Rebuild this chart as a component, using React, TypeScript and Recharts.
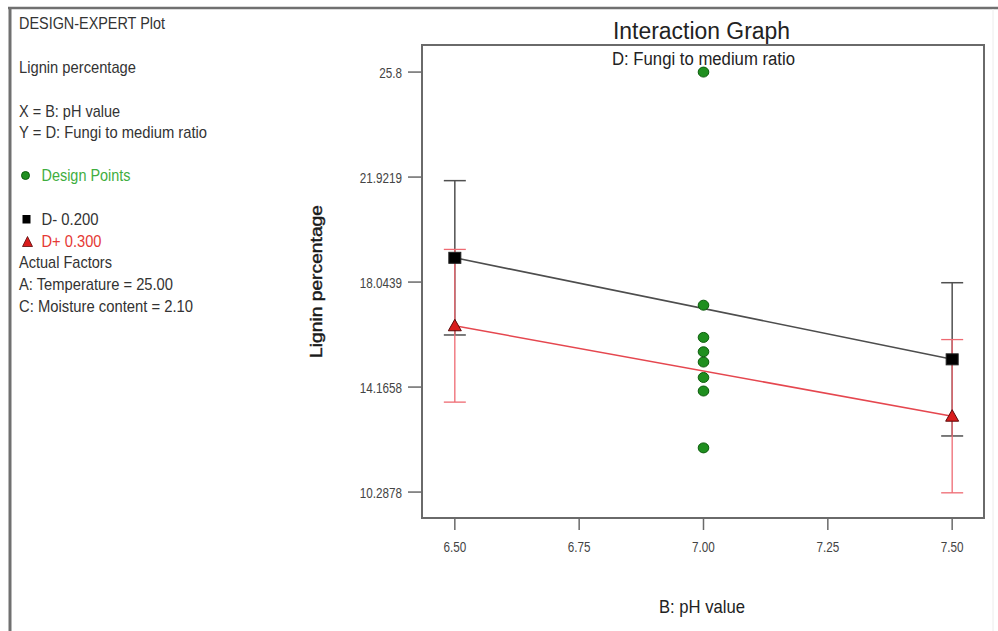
import React from 'react';
import {
  ComposedChart,
  Line,
  Scatter,
  ErrorBar,
  XAxis,
  YAxis,
  ReferenceArea,
} from 'recharts';

const phLevels = [6.5, 7.5];
const dLowMean = [18.94, 15.19]; // D- 0.200
const dLowCI = [2.85, 2.83];
const dHighMean = [16.43, 13.09]; // D+ 0.300
const dHighCI = [2.82, 2.83];
const designPh = 7.0;
const designLignin = [25.8, 17.19, 16.0, 15.47, 15.09, 14.52, 14.02, 11.92];
const xTicks = [6.5, 6.75, 7.0, 7.25, 7.5];
const yTicks = [10.2878, 14.1658, 18.0439, 21.9219, 25.8];

const X_DOMAIN = [6.434, 7.564];
const Y_DOMAIN = [9.33, 26.8];
const FONT = "'Liberation Sans', Arial, sans-serif";

const lowData = phLevels.map((x, i) => ({ x, y: dLowMean[i], e: dLowCI[i] }));
const highData = phLevels.map((x, i) => ({ x, y: dHighMean[i], e: dHighCI[i] }));
const designData = designLignin.map((y) => ({ x: designPh, y }));

function YTick(props: any) {
  const { x, y, payload } = props;
  return (
    <g transform={`translate(${x},${y})`}>
      <text transform="scale(0.78,1)" textAnchor="end" dy={5.5} fontSize={15} fill="#444" fontFamily={FONT}>
        {String(payload.value)}
      </text>
    </g>
  );
}

function XTick(props: any) {
  const { x, y, payload } = props;
  return (
    <g transform={`translate(${x},${y})`}>
      <text transform="scale(0.78,1)" textAnchor="middle" y={22} fontSize={15} fill="#444" fontFamily={FONT}>
        {Number(payload.value).toFixed(2)}
      </text>
    </g>
  );
}

const squareShape = (p: any) => (
  <rect x={p.cx - 6} y={p.cy - 5.5} width={12} height={11} fill="#000" stroke="#222" />
);
const triangleShape = (p: any) => (
  <polygon
    points={`${p.cx},${p.cy - 6.5} ${p.cx - 6.5},${p.cy + 5} ${p.cx + 6.5},${p.cy + 5}`}
    fill="#d91c1c"
    stroke="#5a0a0a"
    strokeWidth={1}
  />
);
const dotShape = (p: any) => (
  <ellipse cx={p.cx} cy={p.cy} rx={5.3} ry={5} fill="#1f8f1f" stroke="#0c5c0c" strokeWidth={1} />
);

function PanelText({ x, y, w, fill = '#333', children }: any) {
  return (
    <text x={x} y={y} fontSize={17} fill={fill} fontFamily={FONT} textLength={w} lengthAdjust="spacingAndGlyphs">
      {children}
    </text>
  );
}

export default function App() {
  return (
    <div style={{ position: 'absolute', left: 0, top: 0, width: 998, height: 631, background: '#fff' }}>
      <div style={{ position: 'absolute', left: 0, top: 0 }}>
        <ComposedChart
          width={998}
          height={631}
          margin={{ top: 45, right: 14, bottom: 73, left: 352 }}
          style={{ fontFamily: FONT }}
        >
          <XAxis
            type="number"
            dataKey="x"
            domain={X_DOMAIN}
            ticks={xTicks}
            allowDataOverflow
            height={40}
            tickSize={12}
            tickMargin={0}
            tick={XTick}
            axisLine={{ stroke: '#6a6a6a', strokeWidth: 2 }}
            tickLine={{ stroke: '#6a6a6a', strokeWidth: 1.5 }}
          />
          <YAxis
            type="number"
            dataKey="y"
            domain={Y_DOMAIN}
            ticks={yTicks}
            allowDataOverflow
            width={70}
            tickSize={14}
            tickMargin={6}
            tick={YTick}
            axisLine={{ stroke: '#6a6a6a', strokeWidth: 2 }}
            tickLine={{ stroke: '#6a6a6a', strokeWidth: 1.5 }}
          />
          <ReferenceArea
            x1={X_DOMAIN[0]}
            x2={X_DOMAIN[1]}
            y1={Y_DOMAIN[0]}
            y2={Y_DOMAIN[1]}
            fill="none"
            stroke="#6a6a6a"
            strokeWidth={2}
            ifOverflow="visible"
          />
          <Line
            data={lowData}
            dataKey="y"
            stroke="#4d4d4d"
            strokeWidth={1.6}
            dot={false}
            isAnimationActive={false}
          >
            <ErrorBar dataKey="e" width={11} stroke="#505050" strokeWidth={1.5} />
          </Line>
          <Line
            data={highData}
            dataKey="y"
            stroke="#e5474f"
            strokeWidth={1.5}
            dot={false}
            isAnimationActive={false}
          >
            <ErrorBar dataKey="e" width={11} stroke="#ee6a72" strokeWidth={1.3} />
          </Line>
          <Scatter data={designData} dataKey="y" shape={dotShape} isAnimationActive={false} />
          <Scatter data={lowData} dataKey="y" shape={squareShape} isAnimationActive={false} />
          <Scatter data={highData} dataKey="y" shape={triangleShape} isAnimationActive={false} />
        </ComposedChart>
      </div>
      <svg
        width={998}
        height={631}
        style={{ position: 'absolute', left: 0, top: 0, pointerEvents: 'none' }}
      >
        {/* outer frame */}
        <line x1={8} y1={8} x2={998} y2={8} stroke="#707070" strokeWidth={2.5} />
        <line x1={10} y1={7} x2={10} y2={631} stroke="#707070" strokeWidth={3} />
        <line x1={993} y1={9} x2={993} y2={631} stroke="#ececec" strokeWidth={1} />

        {/* left info panel */}
        <PanelText x={19} y={29} w={146}>DESIGN-EXPERT Plot</PanelText>
        <PanelText x={19} y={73} w={117}>Lignin percentage</PanelText>
        <PanelText x={19} y={116.5} w={101}>X = B: pH value</PanelText>
        <PanelText x={19} y={137.5} w={188}>Y = D: Fungi to medium ratio</PanelText>
        <circle cx={25.5} cy={175.5} r={4} fill="#1f8f1f" stroke="#0c5c0c" />
        <PanelText x={41.5} y={180.5} w={89} fill="#3fae3f">Design Points</PanelText>
        <rect x={22.5} y={215} width={8} height={8.5} fill="#000" />
        <PanelText x={41.5} y={224.5} w={57}>D- 0.200</PanelText>
        <polygon points="27.5,236.5 22.5,246.5 32.5,246.5" fill="#d91c1c" stroke="#5a0a0a" strokeWidth={0.8} />
        <PanelText x={41.5} y={246.5} w={60} fill="#e53935">D+ 0.300</PanelText>
        <PanelText x={19} y={268} w={93}>Actual Factors</PanelText>
        <PanelText x={19} y={289.5} w={154}>A: Temperature = 25.00</PanelText>
        <PanelText x={19} y={311.5} w={174}>C: Moisture content = 2.10</PanelText>

        {/* titles */}
        <text x={613} y={39} fontSize={23} fill="#222" fontFamily={FONT} textLength={177} lengthAdjust="spacingAndGlyphs">
          Interaction Graph
        </text>
        <text x={612} y={65} fontSize={18} fill="#222" fontFamily={FONT} textLength={183} lengthAdjust="spacingAndGlyphs">
          D: Fungi to medium ratio
        </text>

        {/* axis titles */}
        <text x={659} y={613} fontSize={19} fill="#222" fontFamily={FONT} textLength={86} lengthAdjust="spacingAndGlyphs">
          B: pH value
        </text>
        <text
          transform="translate(322,358) rotate(-90)"
          x={0}
          y={0}
          fontSize={16}
          fill="#1a1a1a"
          fontFamily={FONT}
          textLength={153}
          lengthAdjust="spacingAndGlyphs"
          stroke="#1a1a1a"
          strokeWidth={0.4}
        >
          Lignin percentage
        </text>
      </svg>
    </div>
  );
}
